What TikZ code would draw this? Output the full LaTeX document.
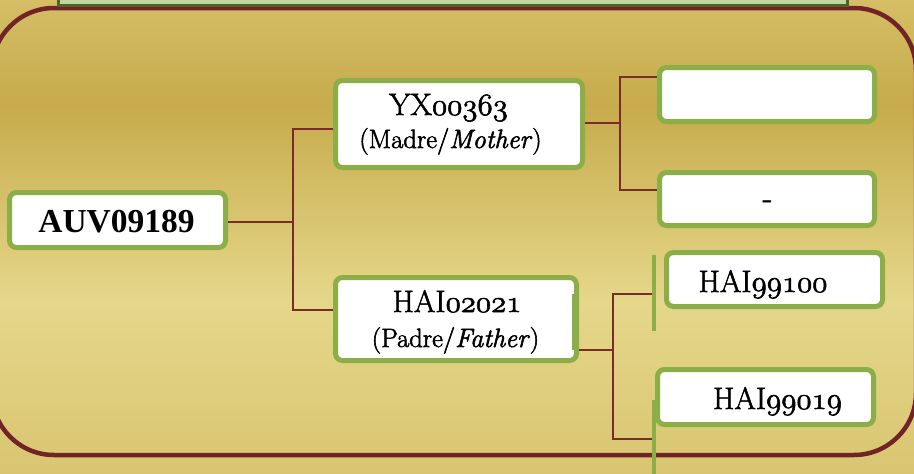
\RequirePackage{fix-cm}
\documentclass[tikz,border=0pt]{standalone}
\usepackage{fontspec}
\newfontfamily\auvfont{Liberation Serif}
\newcommand\myosf[1]{$\mathnormal{#1}$}
\newcommand\heavy[1]{\special{pdf:literal direct 2 Tr 0.55 w}#1\special{pdf:literal direct 0 Tr}}
\newcommand\idsize{\fontsize{31}{36}\selectfont}
\newcommand\subsize{\fontsize{26.5}{31}\selectfont}
\definecolor{bgA}{HTML}{D5BE65}
\definecolor{bgB}{HTML}{C7AB4C}
\definecolor{bgC}{HTML}{E5D78A}
\definecolor{bgD}{HTML}{D9C571}
\definecolor{framered}{HTML}{722327}
\definecolor{conncol}{HTML}{7B2B2B}
\definecolor{boxgreen}{HTML}{8BAE48}
\definecolor{topfill}{HTML}{C3D69B}
\definecolor{topline}{HTML}{4F6228}
\tikzset{
  idbox/.style={draw=boxgreen, line width=5pt, fill=white, rounded corners=7pt, inner sep=0pt},
  conn/.style={draw=conncol, line width=1.6pt},
  gbar/.style={draw=boxgreen, line width=4.5pt},
  lbl/.style={anchor=base, inner sep=0pt, text=black}
}
\begin{document}
\begin{tikzpicture}[x=1pt,y=-1pt]
\useasboundingbox (0,0) rectangle (914,474);
\clip (0,0) rectangle (914,474);
% background gradient
\shade[top color=bgA, bottom color=bgB] (0,-1) rectangle (914,106);
\shade[top color=bgB, bottom color=bgC] (0,105) rectangle (914,301);
\shade[top color=bgC, bottom color=bgD] (0,300) rectangle (914,475);
% big frame
\draw[draw=framered, line width=4.5pt, rounded corners=62pt] (-8,8) rectangle (916,455);
% top box
\draw[fill=topfill, draw=topline, line width=3pt] (58.5,-20) rectangle (847.5,5.5);
% nodes
\node[idbox, minimum width=216pt, minimum height=55pt] (auv) at (117.5,220) {};
\node[idbox, minimum width=247pt, minimum height=87pt] (yx) at (459,124) {};
\node[idbox, minimum width=241pt, minimum height=83pt] (hai) at (456,319) {};
\node[idbox, minimum width=215pt, minimum height=54pt] (m1) at (767,94.5) {};
\node[idbox, minimum width=215pt, minimum height=53pt] (m2) at (767,199) {};
\node[idbox, minimum width=216pt, minimum height=54pt] (f1) at (774.5,279.5) {};
\node[idbox, minimum width=216pt, minimum height=55pt] (f2) at (765.5,397) {};
% thick segment on the right of the father box
\draw[gbar, line width=6.5pt] (575.5,294) -- (575.5,350);
% green bars
\coordinate (bar1top) at (654,255);
\coordinate (bar1bot) at (654,331);
\coordinate (bar2top) at (654,400);
\coordinate (bar2bot) at (654,476);
\draw[gbar] (bar1top) -- (bar1bot);
% connectors
\coordinate (t1) at (293,222);
\coordinate (y129) at (0,129);
\coordinate (y310) at (0,310);
\coordinate (t2) at (620,123);
\coordinate (y77) at (0,77);
\coordinate (y190) at (0,190);
\coordinate (t3) at (613,350);
\coordinate (b1) at (652,294);
\coordinate (b2) at (652,439);
\draw[conn] (auv.east |- t1) -- (t1);
\draw[conn] (yx.west |- y129) -| (t1) |- (hai.west |- y310);
\draw[conn] (yx.east |- t2) -- (t2);
\draw[conn] (m1.west |- y77) -| (t2) |- (m2.west |- y190);
\draw[conn] (hai.east |- t3) -- (t3);
\draw[conn] (b1) -| (t3) |- (b2);
\draw[gbar] (bar2top) -- (bar2bot);
% labels
\node[lbl] (auvt) at (116.5,232) {\auvfont\bfseries\fontsize{33.5}{38}\selectfont AUV09189};
\node[lbl] (yxa) at (448.5,115) {\heavy{\idsize YX\myosf{00363}}};
\node[lbl] (yxb) at (450.5,148) {\heavy{\subsize (Madre/\textit{Mother})}};
\node[lbl] (haia) at (457,312) {\heavy{\idsize HAI\myosf{02021}}};
\node[lbl] (haib) at (455.5,347) {\heavy{\subsize (Padre/\textit{Father})}};
\node[lbl] (m2t) at (767.5,208) {\heavy{\fontsize{31}{36}\selectfont -}};
\node[lbl] (f1t) at (763,292) {\heavy{\idsize HAI\myosf{99100}}};
\node[lbl] (f2t) at (777.5,409) {\heavy{\idsize HAI\myosf{99019}}};
\end{tikzpicture}
\end{document}
